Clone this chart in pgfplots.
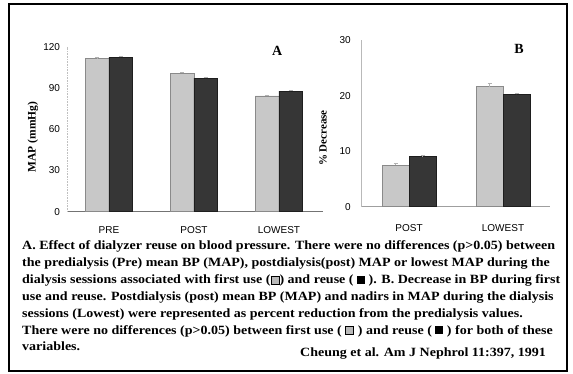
\documentclass[border=0pt]{standalone}
\usepackage{pgfplots}
\pgfplotsset{compat=1.18}
\usepackage{fontspec}
\setmainfont{Liberation Serif}
\setsansfont{Liberation Sans}
\newfontfamily\capfont[FakeStretch=1.112]{Liberation Serif}
\definecolor{lightbar}{HTML}{C8C8C8}
\definecolor{lightedge}{HTML}{8A8A8A}
\definecolor{darkbar}{HTML}{363636}
\definecolor{darkedge}{HTML}{1E1E1E}
\newcommand\graysq{{\setlength\fboxsep{0pt}\setlength\fboxrule{1pt}\raisebox{0.2pt}{\fcolorbox{black}{gray!55}{\rule{0pt}{7pt}\rule{7pt}{0pt}}}}}
\newcommand\blacksq{\rule{8pt}{8pt}}
\pgfplotsset{
  common/.style={
    scale only axis,
    axis lines=left,
    axis line style={-, gray!75, line width=0.6pt},
    ymin=0,
    ybar=0pt,
    major tick length=0pt,
    tick label style={font=\sffamily\fontsize{10}{12}\selectfont},
    /pgf/number format/assume math mode=true,
    error bars/y dir=plus,
    error bars/y explicit,
    error bars/error bar style={gray!60, line width=0.5pt},
    error bars/error mark options={rotate=90, mark size=2pt, gray!60},
    clip=false,
  },
  lightbar/.style={fill=lightbar, draw=lightedge, line width=0.5pt},
  darkbar/.style={fill=darkbar, draw=darkedge, line width=0.5pt},
}
\begin{document}
\begin{tikzpicture}[x=1pt,y=1pt]
\path[use as bounding box] (0pt,0pt) rectangle (573pt,374pt);
\draw[line width=2pt] (9pt,370pt) rectangle (567pt,3pt);
% Panel A
\begin{axis}[common,
  at={(67pt,162.3pt)}, anchor=south west,
  width=256pt, height=165pt,
  xmin=-0.494, xmax=2.518, ymax=120,
  ytick={0,30,60,90,120},
  xtick={0,1,2}, xticklabels={PRE,POST,LOWEST},
  bar width=23.5pt,
  x axis line style={gray!90!black},
  y axis line style={gray!50, densely dotted},
  yticklabel style={xshift=-3.5pt},
  xticklabel style={yshift=-11pt},
  ylabel={\bfseries\fontsize{11.5}{13}\selectfont MAP (mmHg)},
  ylabel style={at={(axis description cs:-0.133,0.453)}, anchor=center},
]
\addplot[lightbar] coordinates {(0,111.3) +- (0,0.7) (1,100.8) +- (0,0.7) (2,84.2) +- (0,0.8)};
\addplot[darkbar] coordinates {(0,112.4) +- (0,0.7) (1,97.2) +- (0,0.8) (2,87.6) +- (0,0.7)};
\node[font=\bfseries\fontsize{14}{16}\selectfont] at (axis cs:1.98,117) {A};
\end{axis}
% Panel B
\begin{axis}[common,
  at={(361pt,167.3pt)}, anchor=south west,
  width=189pt, height=166.7pt,
  xmin=-0.511, xmax=1.5, ymax=30,
  ytick={0,10,20,30},
  xtick={0,1}, xticklabels={POST,LOWEST},
  bar width=27pt,
  y axis line style={gray!55},
  yticklabel style={xshift=-6.7pt},
  xticklabel style={yshift=-14pt},
  ylabel={\bfseries\fontsize{11}{13}\selectfont \% Decrease},
  ylabel style={at={(axis description cs:-0.201,0.412)}, anchor=center},
]
\addplot[lightbar] coordinates {(0,7.5) +- (0,0.3) (1,21.6) +- (0,0.6)};
\addplot[darkbar] coordinates {(0,9.0) +- (0,0.2) (1,20.2) +- (0,0.3)};
\node[font=\bfseries\fontsize{14}{16}\selectfont] at (axis cs:1.17,28.4) {B};
\end{axis}
% Caption
\begin{scope}[every node/.style={anchor=base west, inner sep=0pt, font=\capfont\bfseries\fontsize{12.6}{14}\selectfont}]
\node at (22pt,124pt) {A. Effect of dialyzer reuse on blood pressure. There were no differences (p>0.05) between};
\node at (22pt,107pt) {the predialysis (Pre) mean BP (MAP), postdialysis(post) MAP or lowest MAP during the};
\node at (22pt,90pt) {dialysis sessions associated with first use (\graysq) and reuse ( \blacksq\ ). B. Decrease in BP during first};
\node at (22pt,73pt) {use and reuse. Postdialysis (post) mean BP (MAP) and nadirs in MAP during the dialysis};
\node at (22pt,56pt) {sessions (Lowest) were represented as percent reduction from the predialysis values.};
\node at (22pt,39.5pt) {There were no differences (p>0.05) between first use ( \graysq\ ) and reuse ( \blacksq\ ) for both of these};
\node at (22pt,23pt) {variables.};
\node at (300pt,17pt) {Cheung et al. Am J Nephrol 11:397, 1991};
\end{scope}
\end{tikzpicture}
\end{document}
